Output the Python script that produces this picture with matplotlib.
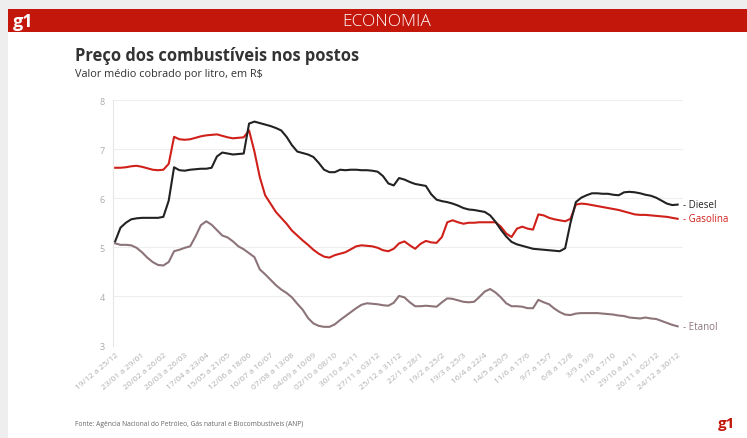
import matplotlib.pyplot as plt
from matplotlib.patches import Rectangle

plt.rcParams['font.family'] = ['Open Sans', 'DejaVu Sans']

# weekly average price (R$/litro), 19/12/2021 .. 24/12/2023
diesel = [5.12, 5.40, 5.50, 5.57, 5.59, 5.60, 5.60, 5.60, 5.60, 5.62,
          5.95, 6.63, 6.57, 6.56, 6.58, 6.59, 6.60, 6.60, 6.62, 6.85,
          6.93, 6.91, 6.89, 6.90, 6.91, 7.52, 7.56, 7.53, 7.50, 7.47,
          7.43, 7.38, 7.25, 7.08, 6.95, 6.92, 6.89, 6.84, 6.72, 6.58,
          6.53, 6.53, 6.58, 6.57, 6.58, 6.58, 6.57, 6.57, 6.56, 6.54,
          6.45, 6.30, 6.26, 6.41, 6.38, 6.33, 6.29, 6.27, 6.25, 6.08,
          5.97, 5.94, 5.92, 5.89, 5.85, 5.80, 5.77, 5.76, 5.74, 5.72,
          5.65, 5.52, 5.36, 5.22, 5.11, 5.06, 5.03, 5.00, 4.97, 4.96,
          4.95, 4.94, 4.93, 4.92, 4.98, 5.50, 5.92, 6.01, 6.06, 6.10,
          6.10, 6.09, 6.09, 6.07, 6.06, 6.12, 6.13, 6.12, 6.10, 6.07,
          6.05, 6.01, 5.95, 5.89, 5.86, 5.87]

gasolina = [6.62, 6.62, 6.63, 6.65, 6.66, 6.64, 6.61, 6.58, 6.57, 6.58,
            6.70, 7.25, 7.20, 7.19, 7.20, 7.23, 7.26, 7.28, 7.29, 7.30,
            7.27, 7.24, 7.22, 7.23, 7.24, 7.38, 6.95, 6.43, 6.06, 5.89,
            5.72, 5.60, 5.48, 5.34, 5.24, 5.14, 5.05, 4.95, 4.87, 4.81,
            4.79, 4.84, 4.87, 4.90, 4.96, 5.02, 5.04, 5.03, 5.02, 4.99,
            4.94, 4.92, 4.97, 5.08, 5.12, 5.04, 4.97, 5.07, 5.13, 5.10,
            5.09, 5.21, 5.51, 5.55, 5.51, 5.48, 5.50, 5.50, 5.51, 5.51,
            5.51, 5.51, 5.42, 5.28, 5.21, 5.38, 5.42, 5.38, 5.36, 5.67,
            5.65, 5.60, 5.57, 5.55, 5.53, 5.58, 5.87, 5.89, 5.88, 5.86,
            5.84, 5.82, 5.80, 5.78, 5.76, 5.73, 5.70, 5.67, 5.66, 5.66,
            5.65, 5.64, 5.63, 5.62, 5.60, 5.58]

etanol = [5.08, 5.05, 5.05, 5.04, 4.99, 4.90, 4.79, 4.70, 4.64, 4.63,
          4.70, 4.92, 4.95, 4.99, 5.02, 5.22, 5.45, 5.53, 5.46, 5.35,
          5.24, 5.20, 5.12, 5.02, 4.96, 4.88, 4.80, 4.55, 4.45, 4.34,
          4.23, 4.14, 4.07, 3.98, 3.85, 3.73, 3.56, 3.45, 3.40, 3.38,
          3.38, 3.43, 3.52, 3.60, 3.68, 3.76, 3.83, 3.86, 3.85, 3.84,
          3.82, 3.81, 3.87, 4.01, 3.98, 3.88, 3.80, 3.80, 3.81, 3.80,
          3.79, 3.88, 3.96, 3.95, 3.92, 3.89, 3.88, 3.89, 3.99, 4.10,
          4.15, 4.08, 3.98, 3.86, 3.80, 3.80, 3.79, 3.76, 3.76, 3.93,
          3.88, 3.84, 3.75, 3.68, 3.63, 3.62, 3.65, 3.66, 3.66, 3.66,
          3.66, 3.65, 3.64, 3.63, 3.61, 3.60, 3.57, 3.56, 3.55, 3.57,
          3.55, 3.54, 3.50, 3.46, 3.42, 3.39]

tick_weeks = [0, 5, 9, 13, 17, 21, 25, 29, 33, 37, 41, 45, 49, 53, 57,
              61, 65, 69, 73, 77, 81, 85, 89, 93, 97, 101, 105]
tick_labels = ['19/12 a 25/12', '23/01 a 29/01', '20/02 a 26/02', '20/03 a 26/03',
               '17/04 a 23/04', '15/05 a 21/05', '12/06 a 18/06', '10/07 a 16/07',
               '07/08 a 13/08', '04/09 a 10/09', '02/10 a 08/10', '30/10 a 5/11',
               '27/11 a 03/12', '25/12 a 31/12', '22/1 a 28/1', '19/2 a 25/2',
               '19/3 a 25/3', '16/4 a 22/4', '14/5 a 20/5', '11/6 a 17/6',
               '9/7 a 15/7', '6/8 a 12/8', '3/9 a 9/9', '1/10 a 7/10',
               '29/10 a 4/11', '26/11 a 02/12', '24/12 a 30/12']

weeks = list(range(len(diesel)))
red = '#c4170c'
c_diesel = '#222222'
c_gas = '#d0201a'
c_eta = '#8c7479'

fig = plt.figure(figsize=(7.47, 4.39), dpi=100)
fig.patch.set_facecolor('white')

# gray frame strips and red header band
fig.patches.append(Rectangle((0, 0), 8 / 747, 1, transform=fig.transFigure,
                             facecolor='#eeeeee', edgecolor='none', zorder=0))
fig.patches.append(Rectangle((0, 1 - 10 / 439), 1, 10 / 439, transform=fig.transFigure,
                             facecolor='#eeeeee', edgecolor='none', zorder=0))
fig.patches.append(Rectangle((8 / 747, 1 - 33 / 439), 1, 23 / 439, transform=fig.transFigure,
                             facecolor=red, edgecolor='none', zorder=1))
fig.text(13 / 747, 1 - 22 / 439, 'g1', color='white', fontsize=13, fontweight='bold',
         va='center', ha='left')
fig.text(0.518, 1 - 22 / 439, 'ECONOMIA', color='white', fontsize=12.5, fontweight='light',
         va='center', ha='center')

fig.text(75 / 747, 1 - 56 / 439, 'Preço dos combustíveis nos postos', fontsize=11.9,
         fontweight='bold', color='#333333', va='center', ha='left')
fig.text(75 / 747, 1 - 75 / 439, 'Valor médio cobrado por litro, em R$', fontsize=7.8,
         color='#333333', va='center', ha='left')
fig.text(75 / 747, 1 - 425 / 439,
         'Fonte: Agência Nacional do Petróleo, Gás natural e Biocombustíveis (ANP)',
         fontsize=4.8, color='#666666', va='center', ha='left')
fig.text(718 / 747, 1 - 424 / 439, 'g1', color=red, fontsize=11, fontweight='bold',
         va='center', ha='left')

ax = fig.add_axes([113 / 747, 1 - 346.5 / 439, 570 / 747, 245.5 / 439])
ax.set_zorder(5)
ax.patch.set_alpha(0)
ax.plot(weeks, etanol, color=c_eta, lw=1.5)
ax.plot(weeks, gasolina, color=c_gas, lw=1.5)
ax.plot(weeks, diesel, color=c_diesel, lw=1.5)

ax.set_xlim(-0.4, 106)
ax.set_ylim(3, 8)
ax.set_yticks([3, 4, 5, 6, 7, 8])
ax.grid(axis='y', color='#eeeeee', lw=0.8)
ax.set_axisbelow(True)
for s in ['top', 'right', 'bottom']:
    ax.spines[s].set_visible(False)
ax.spines['left'].set_color('#e6e6e6')
ax.tick_params(axis='y', length=0, labelsize=6.5, labelcolor='#aaaaaa', pad=6)
ax.set_xticks(tick_weeks)
ax.set_xticklabels(tick_labels, rotation=40, ha='right', rotation_mode='anchor',
                   fontsize=6, color='#b0b0b0')
ax.tick_params(axis='x', length=0, pad=4)

last = len(diesel) - 1
for vals, name, c in [(diesel, 'Diesel', c_diesel), (gasolina, 'Gasolina', c_gas),
                      (etanol, 'Etanol', c_eta)]:
    ax.annotate('- ' + name, xy=(last, vals[-1]), xytext=(4, 0), textcoords='offset points',
                fontsize=7, color=c, va='center', ha='left', annotation_clip=False)

fig.savefig('out.png', dpi=100)
